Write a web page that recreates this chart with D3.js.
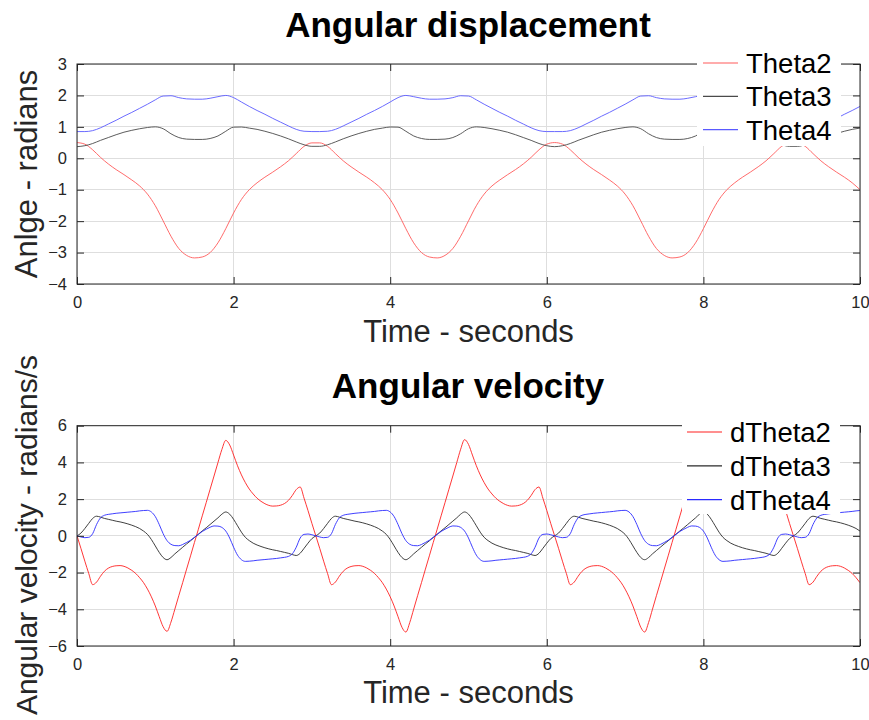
<!DOCTYPE html>
<html><head><meta charset="utf-8">
<script src="https://cdn.jsdelivr.net/npm/d3@7"></script>
<style>
body{margin:0;background:#fff}
svg{display:block}
text{font-family:"Liberation Sans",Arial,Helvetica,sans-serif}
</style>
</head><body>
<svg id="c" width="869" height="720"></svg>
<script>
// ---------- DATA ----------
const timeTop = d3.range(0, 101).map(i => i / 10);      // 0 .. 10 s, step 0.1
const timeBottom = d3.range(0, 201).map(i => i / 20);   // 0 .. 10 s, step 0.05

const theta2 = [
 0.50,0.45,0.27,0.03,-0.18,-0.36,-0.52,-0.69,-0.88,-1.14,
 -1.51,-1.99,-2.48,-2.87,-3.09,-3.17,-3.14,-3.00,-2.69,-2.24,
 -1.74,-1.31,-1.00,-0.78,-0.60,-0.44,-0.27,-0.08,0.15,0.38,
 0.49,0.49,0.38,0.15,-0.08,-0.27,-0.44,-0.60,-0.78,-1.00,
 -1.31,-1.74,-2.24,-2.69,-3.00,-3.14,-3.17,-3.09,-2.87,-2.48,
 -1.99,-1.51,-1.14,-0.88,-0.69,-0.52,-0.36,-0.18,0.03,0.27,
 0.45,0.50,0.45,0.27,0.03,-0.18,-0.36,-0.52,-0.69,-0.88,
 -1.14,-1.51,-1.99,-2.48,-2.87,-3.09,-3.17,-3.14,-3.00,-2.69,
 -2.24,-1.74,-1.31,-1.00,-0.78,-0.60,-0.44,-0.27,-0.08,0.15,
 0.38,0.49,0.49,0.38,0.15,-0.08,-0.27,-0.44,-0.60,-0.78,
 -1.00];
const theta3 = [
 0.37,0.40,0.47,0.57,0.66,0.75,0.83,0.89,0.94,0.98,
 1.00,0.94,0.78,0.66,0.61,0.60,0.60,0.63,0.71,0.86,
 0.99,0.995,0.96,0.92,0.86,0.79,0.71,0.62,0.52,0.43,
 0.38,0.38,0.43,0.52,0.62,0.71,0.79,0.86,0.92,0.96,
 0.995,0.99,0.86,0.71,0.63,0.60,0.60,0.61,0.66,0.78,
 0.94,1.00,0.98,0.94,0.89,0.83,0.75,0.66,0.57,0.47,
 0.40,0.37,0.40,0.47,0.57,0.66,0.75,0.83,0.89,0.94,
 0.98,1.00,0.94,0.78,0.66,0.61,0.60,0.60,0.63,0.71,
 0.86,0.99,0.995,0.96,0.92,0.86,0.79,0.71,0.62,0.52,
 0.43,0.38,0.38,0.43,0.52,0.62,0.71,0.79,0.86,0.92,
 0.96];
const theta4 = [
 0.85,0.85,0.88,0.97,1.09,1.21,1.34,1.46,1.59,1.72,
 1.86,1.98,1.99,1.93,1.89,1.88,1.88,1.91,1.96,2.00,
 1.93,1.79,1.65,1.52,1.40,1.27,1.15,1.03,0.92,0.86,
 0.85,0.85,0.86,0.92,1.03,1.15,1.27,1.40,1.52,1.65,
 1.79,1.93,2.00,1.96,1.91,1.88,1.88,1.89,1.93,1.99,
 1.98,1.86,1.72,1.59,1.46,1.34,1.21,1.09,0.97,0.88,
 0.85,0.85,0.85,0.88,0.97,1.09,1.21,1.34,1.46,1.59,
 1.72,1.86,1.98,1.99,1.93,1.89,1.88,1.88,1.91,1.96,
 2.00,1.93,1.79,1.65,1.52,1.40,1.27,1.15,1.03,0.92,
 0.86,0.85,0.85,0.86,0.92,1.03,1.15,1.27,1.40,1.52,
 1.65];

const dTheta2 = [
 0,-0.68,-1.38,-2.05,-2.66,-2.52,-2.20,-1.93,-1.76,-1.67,
 -1.63,-1.62,-1.66,-1.75,-1.88,-2.05,-2.28,-2.55,-2.90,-3.32,
 -3.82,-4.40,-4.95,-5.20,-4.70,-3.99,-3.26,-2.54,-1.81,-1.09,
 -0.36,0.36,1.09,1.81,2.54,3.26,3.99,4.70,5.20,4.95,
 4.40,3.82,3.32,2.90,2.55,2.28,2.05,1.88,1.75,1.66,
 1.62,1.63,1.67,1.76,1.93,2.20,2.52,2.66,2.05,1.38,
 0.68,
 0,-0.68,-1.38,-2.05,-2.66,-2.52,-2.20,-1.93,-1.76,-1.67,
 -1.63,-1.62,-1.66,-1.75,-1.88,-2.05,-2.28,-2.55,-2.90,-3.32,
 -3.82,-4.40,-4.98,-5.24,-4.72,-3.99,-3.26,-2.54,-1.81,-1.09,
 -0.36,0.36,1.09,1.81,2.54,3.26,3.99,4.72,5.24,4.98,
 4.40,3.82,3.32,2.90,2.55,2.28,2.05,1.88,1.75,1.66,
 1.62,1.63,1.67,1.76,1.93,2.20,2.52,2.66,2.05,1.38,
 0.68,
 0,-0.68,-1.38,-2.05,-2.66,-2.52,-2.20,-1.93,-1.76,-1.67,
 -1.63,-1.62,-1.66,-1.75,-1.88,-2.05,-2.28,-2.55,-2.90,-3.32,
 -3.82,-4.40,-4.98,-5.24,-4.72,-3.99,-3.26,-2.54,-1.81,-1.09,
 -0.36,0.36,1.09,1.81,2.54,3.26,3.99,4.72,5.24,4.98,
 4.40,3.82,3.32,2.90,2.55,2.28,2.05,1.88,1.75,1.66,
 1.62,1.63,1.67,1.76,1.93,2.20,2.52,2.66,2.05,1.38,
 0.68,
 0,-0.68,-1.38,-2.05,-2.66,-2.52,-2.20,-1.93,-1.76,-1.67,
 -1.63,-1.62,-1.66,-1.75,-1.88,-2.05,-2.28,-2.55];
const dTheta3 = [
 0,0.15,0.40,0.68,0.95,1.07,1.02,0.95,0.90,0.85,
 0.80,0.76,0.71,0.65,0.58,0.50,0.40,0.26,0.08,-0.20,
 -0.55,-0.90,-1.18,-1.30,-1.18,-0.98,-0.80,-0.62,-0.44,-0.27,
 -0.09,0.09,0.27,0.44,0.62,0.80,0.98,1.18,1.30,1.18,
 0.90,0.55,0.20,-0.08,-0.26,-0.40,-0.50,-0.58,-0.65,-0.71,
 -0.76,-0.80,-0.85,-0.90,-0.95,-1.02,-1.07,-0.95,-0.68,-0.40,
 -0.15,
 0,0.15,0.40,0.68,0.95,1.07,1.02,0.95,0.90,0.85,
 0.80,0.76,0.71,0.65,0.58,0.50,0.40,0.26,0.08,-0.20,
 -0.55,-0.90,-1.18,-1.30,-1.18,-0.98,-0.80,-0.62,-0.44,-0.27,
 -0.09,0.09,0.27,0.44,0.62,0.80,0.98,1.18,1.30,1.18,
 0.90,0.55,0.20,-0.08,-0.26,-0.40,-0.50,-0.58,-0.65,-0.71,
 -0.76,-0.80,-0.85,-0.90,-0.95,-1.02,-1.07,-0.95,-0.68,-0.40,
 -0.15,
 0,0.15,0.40,0.68,0.95,1.07,1.02,0.95,0.90,0.85,
 0.80,0.76,0.71,0.65,0.58,0.50,0.40,0.26,0.08,-0.20,
 -0.55,-0.90,-1.18,-1.30,-1.18,-0.98,-0.80,-0.62,-0.44,-0.27,
 -0.09,0.09,0.27,0.44,0.62,0.80,0.98,1.18,1.30,1.18,
 0.90,0.55,0.20,-0.08,-0.26,-0.40,-0.50,-0.58,-0.65,-0.71,
 -0.76,-0.80,-0.85,-0.90,-0.95,-1.02,-1.07,-0.95,-0.68,-0.40,
 -0.15,
 0,0.15,0.40,0.68,0.95,1.07,1.02,0.95,0.90,0.85,
 0.80,0.76,0.71,0.65,0.58,0.50,0.40,0.26];
const dTheta4 = [
 0,-0.06,-0.10,-0.08,0.12,0.62,0.98,1.12,1.17,1.20,
 1.23,1.25,1.27,1.29,1.31,1.33,1.36,1.38,1.39,1.30,
 1.05,0.62,0.12,-0.26,-0.46,-0.53,-0.54,-0.47,-0.36,-0.24,
 -0.08,0.08,0.24,0.36,0.47,0.54,0.53,0.46,0.26,-0.12,
 -0.62,-1.05,-1.30,-1.39,-1.38,-1.36,-1.33,-1.31,-1.29,-1.27,
 -1.25,-1.23,-1.20,-1.17,-1.12,-0.98,-0.62,-0.12,0.08,0.10,
 0.06,
 0,-0.06,-0.10,-0.08,0.12,0.62,0.98,1.12,1.17,1.20,
 1.23,1.25,1.27,1.29,1.31,1.33,1.36,1.38,1.39,1.30,
 1.05,0.62,0.12,-0.26,-0.46,-0.53,-0.54,-0.47,-0.36,-0.24,
 -0.08,0.08,0.24,0.36,0.47,0.54,0.53,0.46,0.26,-0.12,
 -0.62,-1.05,-1.30,-1.39,-1.38,-1.36,-1.33,-1.31,-1.29,-1.27,
 -1.25,-1.23,-1.20,-1.17,-1.12,-0.98,-0.62,-0.12,0.08,0.10,
 0.06,
 0,-0.06,-0.10,-0.08,0.12,0.62,0.98,1.12,1.17,1.20,
 1.23,1.25,1.27,1.29,1.31,1.33,1.36,1.38,1.39,1.30,
 1.05,0.62,0.12,-0.26,-0.46,-0.53,-0.54,-0.47,-0.36,-0.24,
 -0.08,0.08,0.24,0.36,0.47,0.54,0.53,0.46,0.26,-0.12,
 -0.62,-1.05,-1.30,-1.39,-1.38,-1.36,-1.33,-1.31,-1.29,-1.27,
 -1.25,-1.23,-1.20,-1.17,-1.12,-0.98,-0.62,-0.12,0.08,0.10,
 0.06,
 0,-0.06,-0.10,-0.08,0.12,0.62,0.98,1.12,1.17,1.20,
 1.23,1.25,1.27,1.29,1.31,1.33,1.36,1.38];

const xTicks = [0, 2, 4, 6, 8, 10];
const yTicksTop = [-4, -3, -2, -1, 0, 1, 2, 3];
const yTicksBottom = [-6, -4, -2, 0, 2, 4, 6];
const legendTop = ["Theta2", "Theta3", "Theta4"];
const legendBottom = ["dTheta2", "dTheta3", "dTheta4"];
const colorsTop = ["#ff5a5a", "#4a4a4a", "#5a5aff"];
const colorsBottom = ["#ff2020", "#2a2a2a", "#2a2aff"];

// ---------- DRAW ----------
const svg = d3.select("#c");
const axisColor = "#262626", gridColor = "#dedede";

function panel(cfg) {
  const x = d3.scaleLinear().domain([0, 10]).range([77, 860]);
  const y = d3.scaleLinear().domain(cfg.yDomain).range(cfg.yRange);
  const g = svg.append("g");
  const [yb, yt] = cfg.yRange;

  // grid
  g.selectAll(".gx").data(xTicks).join("line")
    .attr("x1", d => x(d)).attr("x2", d => x(d)).attr("y1", yt).attr("y2", yb)
    .attr("stroke", gridColor).attr("stroke-width", 1).attr("shape-rendering", "crispEdges");
  g.selectAll(".gy").data(cfg.yTicks).join("line")
    .attr("x1", 77).attr("x2", 860).attr("y1", d => y(d)).attr("y2", d => y(d))
    .attr("stroke", gridColor).attr("stroke-width", 1).attr("shape-rendering", "crispEdges");

  // lines
  const clipId = "clip" + cfg.id;
  svg.append("clipPath").attr("id", clipId).append("rect")
    .attr("x", 77).attr("y", yt).attr("width", 783).attr("height", yb - yt);
  const line = d3.line().curve(d3.curveMonotoneX);
  cfg.series.forEach((s, i) => {
    g.append("path")
      .attr("d", line(cfg.time.map((t, k) => [x(t), y(s[k])])))
      .attr("fill", "none").attr("stroke", cfg.colors[i])
      .attr("stroke-width", 0.9)
      .attr("clip-path", `url(#${clipId})`);
  });

  // axes (ticks inward on all four sides)
  const fmt = d3.format("d");
  const ax = g.append("g").attr("transform", `translate(0,${yb})`)
    .call(d3.axisBottom(x).tickValues(xTicks).tickFormat(fmt).tickSizeInner(-7).tickSizeOuter(0).tickPadding(12));
  const axT = g.append("g").attr("transform", `translate(0,${yt})`)
    .call(d3.axisTop(x).tickValues(xTicks).tickFormat("").tickSizeInner(-7).tickSizeOuter(0));
  const ay = g.append("g").attr("transform", `translate(77,0)`)
    .call(d3.axisLeft(y).tickValues(cfg.yTicks).tickFormat(fmt).tickSizeInner(-7).tickSizeOuter(0).tickPadding(10));
  const ayR = g.append("g").attr("transform", `translate(860,0)`)
    .call(d3.axisRight(y).tickValues(cfg.yTicks).tickFormat("").tickSizeInner(-7).tickSizeOuter(0));
  [ax, axT, ay, ayR].forEach(a => {
    a.select(".domain").remove();
    a.selectAll("line").attr("stroke", axisColor);
    a.selectAll("text").attr("fill", axisColor).style("font-size", "16.5px")
      .style("font-family", '"Liberation Sans",Arial,sans-serif');
  });
  g.append("rect").attr("x", 77).attr("y", yt).attr("width", 783).attr("height", yb - yt)
    .attr("fill", "none").attr("stroke", axisColor).attr("stroke-width", 1);

  // title
  svg.append("text").attr("x", 468).attr("y", cfg.titleY).attr("text-anchor", "middle")
    .style("font-size", "35px").style("font-weight", "bold").attr("fill", "#000")
    .text(cfg.title);
  // axis labels
  svg.append("text").attr("x", 468.5).attr("y", cfg.xLabelY).attr("text-anchor", "middle")
    .style("font-size", "31px").attr("fill", axisColor).text("Time - seconds");
  svg.append("text").attr("transform", `translate(37,${cfg.yLabelC}) rotate(-90)`)
    .attr("text-anchor", "middle").style("font-size", cfg.yLabelSize).attr("fill", axisColor)
    .text(cfg.yLabel);

  // legend
  const L = cfg.legend;
  svg.append("rect").attr("x", L.x).attr("y", L.top).attr("width", L.w).attr("height", L.bottom - L.top)
    .attr("fill", "#fff");
  cfg.legendLabels.forEach((lab, i) => {
    const cy = L.row0 + i * L.step;
    svg.append("line").attr("x1", L.lx).attr("x2", L.lx + 35).attr("y1", cy).attr("y2", cy)
      .attr("stroke", cfg.colors[i]).attr("stroke-width", 1.2);
    svg.append("text").attr("x", L.lx + 43).attr("y", cy + 10).style("font-size", "27.5px")
      .attr("fill", "#000").text(lab);
  });
}

panel({
  id: "top", yDomain: [-4, 3], yRange: [284, 64], yTicks: yTicksTop,
  time: timeTop, series: [theta2, theta3, theta4], colors: colorsTop,
  title: "Angular displacement", titleY: 37, xLabelY: 342,
  yLabel: "Anlge - radians", yLabelC: 174, yLabelSize: "31px",
  legendLabels: legendTop,
  legend: { x: 697, w: 144, top: 46, bottom: 146, lx: 703, row0: 63, step: 33.3 }
});
panel({
  id: "bot", yDomain: [-6, 6], yRange: [646, 425.7], yTicks: yTicksBottom,
  time: timeBottom, series: [dTheta2, dTheta3, dTheta4], colors: colorsBottom,
  title: "Angular velocity", titleY: 398, xLabelY: 703,
  yLabel: "Angular velocity - radians/s", yLabelC: 535, yLabelSize: "30px",
  legendLabels: legendBottom,
  legend: { x: 682, w: 158, top: 414, bottom: 514, lx: 687, row0: 432, step: 33.8 }
});
</script>
</body></html>
